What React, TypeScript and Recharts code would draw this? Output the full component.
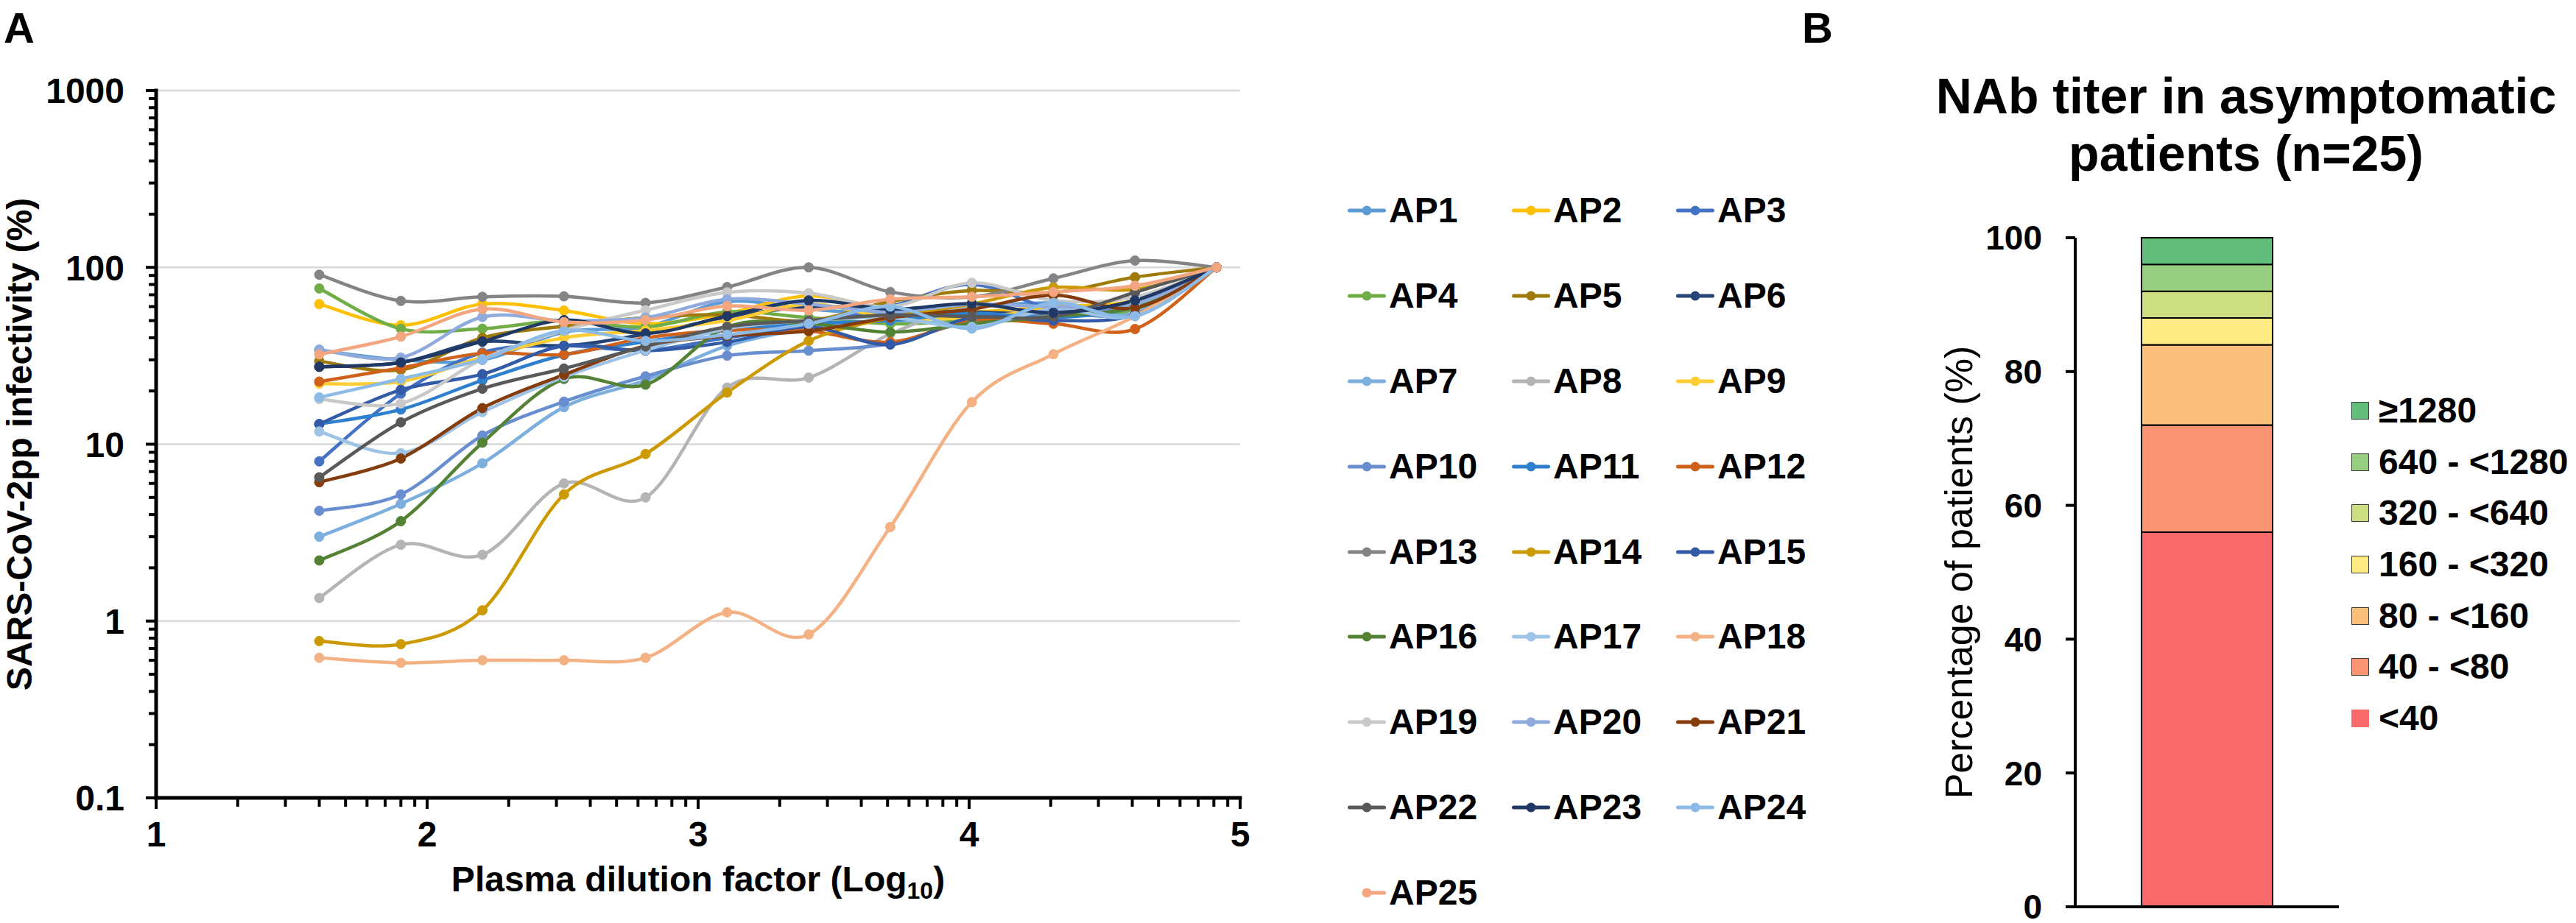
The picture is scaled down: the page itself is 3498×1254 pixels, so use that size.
import React from "react"
import {
  LineChart,
  Line,
  XAxis,
  YAxis,
  CartesianGrid,
  Legend,
  Label,
  BarChart,
  Bar
} from "recharts"

const FONT = '"Liberation Sans", Arial, sans-serif'

// log10 of plasma dilution, 1:40 ... 1:81920
const dilutionLog = [1.602, 1.903, 2.204, 2.505, 2.806, 3.107, 3.408, 3.709, 4.01, 4.311, 4.612, 4.913]

const patients = [
  "AP1", "AP2", "AP3", "AP4", "AP5", "AP6", "AP7", "AP8", "AP9", "AP10", "AP11", "AP12", "AP13",
  "AP14", "AP15", "AP16", "AP17", "AP18", "AP19", "AP20", "AP21", "AP22", "AP23", "AP24", "AP25"
]

const patientColors = [
  "#5B9BD5", "#FFC000", "#4472C4", "#70AD47", "#9E7A0A", "#264478", "#7CAFDD", "#B4B4B4", "#FFCD33",
  "#698ED0", "#2E80CE", "#D0611A", "#848484", "#CC9A00", "#335AA6", "#548235", "#9DC3E6", "#F4B183",
  "#C9C9C9", "#8FAADC", "#843C0C", "#595959", "#1F3864", "#8DBBE8", "#F4A680"
]

// SARS-CoV-2pp infectivity (%) per patient, one value per dilution
const ap1 = [34, 30, 30, 43, 46, 64, 58, 55, 60, 63, 58, 100]
const ap2 = [62, 47, 62, 57, 48, 55, 69, 58, 56, 60, 65, 100]
const ap3 = [8.0, 19.3, 33, 36, 34, 40, 47, 60, 80, 58, 55, 100]
const ap4 = [76, 45, 45, 50, 46, 56, 52, 48, 50, 53, 58, 100]
const ap5 = [29.5, 26.3, 40, 46.5, 52, 54, 50, 64, 74, 72, 88, 100]
const ap6 = [27.4, 29, 38, 36, 42, 52, 60, 58, 56, 55, 65, 100]
const ap7 = [3.0, 4.6, 7.8, 16.2, 23, 36, 45, 50, 48, 58, 55, 100]
const ap8 = [1.35, 2.7, 2.37, 6.0, 5.0, 20.9, 23.8, 42, 60, 55, 62, 100]
const ap9 = [22, 22.6, 31, 40, 44, 50, 62, 52, 52, 58, 62, 100]
const ap10 = [4.2, 5.2, 11.2, 17.4, 24.2, 31.7, 33.8, 37, 50, 56, 62, 100]
const ap11 = [13, 15.7, 23, 32, 38, 44, 48, 50, 55, 52, 60, 100]
const ap12 = [22.6, 27, 32.7, 32.2, 40, 44, 43.6, 37.8, 50, 48, 44.8, 100]
const ap13 = [90.9, 64.6, 68.2, 68.6, 63, 77.4, 100, 72.6, 68, 86.6, 109.3, 100]
const ap14 = [0.77, 0.74, 1.15, 5.2, 8.8, 19.6, 38.4, 52, 62, 77, 75, 100]
const ap15 = [13, 20.3, 24.9, 36, 33.8, 37.8, 46, 36.6, 52, 50, 54, 100]
const ap16 = [2.2, 3.67, 10.2, 23.4, 21.7, 46, 48, 43, 48, 52.8, 60, 100]
const ap17 = [11.8, 8.9, 15.2, 24, 34, 45, 50, 52, 46, 58, 53, 100]
const ap18 = [0.62, 0.58, 0.6, 0.6, 0.62, 1.12, 0.84, 3.4, 17.3, 32.3, 53, 100]
const ap19 = [18, 17, 30.2, 44, 57.2, 72.2, 71.5, 60, 81.8, 65, 68, 100]
const ap20 = [34.3, 30.9, 52.4, 50, 52, 66, 62, 56, 62, 60, 62, 100]
const ap21 = [6.1, 8.3, 16, 24.7, 36, 41, 43.6, 52, 58, 69.7, 59, 100]
const ap22 = [6.5, 13.3, 20.6, 26.8, 35.7, 46.1, 50, 53.7, 52.8, 52.8, 72.2, 100]
const ap23 = [27.4, 29, 38.1, 50.3, 42.3, 53.1, 65, 58, 62.4, 55.4, 65, 100]
const ap24 = [18.4, 23.4, 30.2, 43.9, 38.4, 41.6, 48, 60, 45, 63, 53, 100]
const ap25 = [32.2, 40.6, 58.1, 49.1, 50.4, 60.4, 57.2, 66, 68.2, 72.6, 78.7, 100]

const seriesValues = [
  ap1, ap2, ap3, ap4, ap5, ap6, ap7, ap8, ap9, ap10, ap11, ap12, ap13,
  ap14, ap15, ap16, ap17, ap18, ap19, ap20, ap21, ap22, ap23, ap24, ap25
]

const yMajorTicks = [0.1, 1, 10, 100, 1000]
const xMajorTicks = [1, 2, 3, 4, 5]
const minorSteps = [2, 3, 4, 5, 6, 7, 8, 9]

// panel B
const titerBands = ["<40", "40 - <80", "80 - <160", "160 - <320", "320 - <640", "640 - <1280", "≥1280"]
const bandPercents = [56, 16, 12, 4, 4, 4, 4]
const bandColors = ["#F8696B", "#FA9473", "#FBBF7C", "#FFEB84", "#CDDD82", "#98CE7F", "#63BE7B"]
const percentTicks = [0, 20, 40, 60, 80, 100]

const infectivityRows = dilutionLog.map((x, i) => {
  const row: any = { x }
  patients.forEach((p, k) => {
    row[p] = seriesValues[k][i]
  })
  return row
})

const titerRows = [
  titerBands.reduce((row: any, _b, i) => {
    row["b" + i] = bandPercents[i]
    return row
  }, { group: "asymptomatic" })
]

const yMinorTicks = yMajorTicks
  .slice(0, -1)
  .flatMap(d => minorSteps.map(k => +(d * k).toPrecision(3)))
const xMinorTicks = xMajorTicks
  .slice(0, -1)
  .flatMap(d => minorSteps.map(k => d + Math.log10(k)))

// Excel-style smoothed line (Catmull-Rom through the points)
const smoothCurve: any = (context: any) => {
  let pts: number[][] = []
  return {
    areaStart() {},
    areaEnd() {},
    lineStart() {
      pts = []
    },
    point(x: number, y: number) {
      pts.push([+x, +y])
    },
    lineEnd() {
      const n = pts.length
      if (!n) return
      context.moveTo(pts[0][0], pts[0][1])
      for (let i = 0; i < n - 1; i++) {
        const p0 = pts[i - 1] || pts[i]
        const p1 = pts[i]
        const p2 = pts[i + 1]
        const p3 = pts[i + 2] || p2
        context.bezierCurveTo(
          p1[0] + (p2[0] - p0[0]) / 6,
          p1[1] + (p2[1] - p0[1]) / 6,
          p2[0] - (p3[0] - p1[0]) / 6,
          p2[1] - (p3[1] - p1[1]) / 6,
          p2[0],
          p2[1]
        )
      }
    }
  }
}

function YLogTick({ x, y, payload }: any) {
  const major = yMajorTicks.includes(payload.value)
  return (
    <g>
      <line x1={x} x2={x - (major ? 14 : 10)} y1={y} y2={y} stroke="#000" strokeWidth={4} />
      {major && (
        <text x={x - 43} y={y} dy="0.36em" textAnchor="end" fontSize={48} fontWeight={700} fontFamily={FONT} fill="#000">
          {payload.value}
        </text>
      )}
    </g>
  )
}

function XLogTick({ x, y, payload }: any) {
  const major = xMajorTicks.some(t => Math.abs(t - payload.value) < 1e-6)
  return (
    <g>
      <line x1={x} x2={x} y1={y} y2={y + (major ? 15 : 12)} stroke="#000" strokeWidth={4} />
      {major && (
        <text x={x} y={y + 66} textAnchor="middle" fontSize={48} fontWeight={700} fontFamily={FONT} fill="#000">
          {Math.round(payload.value)}
        </text>
      )}
    </g>
  )
}

const infectivityTitle = ({ viewBox }: any) => {
  const cx = viewBox.x - 49
  const cy = viewBox.y + viewBox.height / 2
  return (
    <text x={cx} y={cy} transform={`rotate(-90 ${cx} ${cy})`} textAnchor="middle" fontSize={48} fontWeight={700} fontFamily={FONT} fill="#000">
      SARS-CoV-2pp infectivity (%)
    </text>
  )
}

const dilutionTitle = ({ viewBox }: any) => (
  <text x={viewBox.x + viewBox.width / 2} y={viewBox.y + 127} textAnchor="middle" fontSize={48} fontWeight={700} fontFamily={FONT} fill="#000">
    Plasma dilution factor (Log
    <tspan fontSize={32} dy={10}>10</tspan>
    <tspan dy={-10}>)</tspan>
  </text>
)

const percentTitle = ({ viewBox }: any) => {
  const cx = viewBox.x - 40
  const cy = viewBox.y + viewBox.height / 2
  return (
    <text x={cx} y={cy} transform={`rotate(-90 ${cx} ${cy})`} textAnchor="middle" fontSize={52} fontFamily={FONT} fill="#000">
      Percentage of patients (%)
    </text>
  )
}

const patientLegend = ({ payload }: any) => {
  const items = patients.map(p => (payload || []).find((e: any) => e.value === p)).filter(Boolean)
  return (
    <div style={{ display: "grid", gridTemplateColumns: "repeat(3, 223px)", gridAutoRows: "115.9px", fontFamily: FONT }}>
      {items.map((entry: any, i: number) => (
        <div key={entry.value} style={{ display: "flex", alignItems: "center" }}>
          <svg width={52} height={16}>
            <line x1={i === items.length - 1 ? 26 : 2.5} x2={49.5} y1={8} y2={8} stroke={entry.color} strokeWidth={5} strokeLinecap="round" />
            <circle cx={26} cy={8} r={6.5} fill={entry.color} />
          </svg>
          <span style={{ fontSize: 48, fontWeight: 700, lineHeight: 1, marginLeft: 4, color: "#000" }}>
            {entry.value}
          </span>
        </div>
      ))}
    </div>
  )
}

const bandLegend = ({ payload }: any) => {
  const items = titerBands
    .slice()
    .reverse()
    .map(b => (payload || []).find((e: any) => e.value === b))
    .filter(Boolean)
  return (
    <div style={{ fontFamily: FONT }}>
      {items.map((entry: any) => (
        <div key={entry.value} style={{ display: "flex", alignItems: "center", height: 69.7 }}>
          <span
            style={{
              width: 24,
              height: 24,
              background: entry.color,
              border: entry.value === titerBands[0] ? "none" : "1.5px solid #3c3c3c",
              boxSizing: "border-box"
            }}
          />
          <span style={{ fontSize: 48, fontWeight: 700, lineHeight: 1, marginLeft: 13, color: "#000" }}>
            {entry.value}
          </span>
        </div>
      ))}
    </div>
  )
}

export default function App() {
  return (
    <div style={{ position: "absolute", left: 0, top: 0, width: 3498, height: 1254, background: "#fff", overflow: "hidden", fontFamily: FONT }}>

      <div style={{ position: "absolute", left: 0, top: 0 }}>
        <LineChart width={2500} height={1254} data={infectivityRows} margin={{ top: 123, right: 816, bottom: 110, left: 92 }}>

          <CartesianGrid vertical={false} horizontalValues={yMajorTicks} stroke="#d9d9d9" strokeWidth={2.5} />

          <XAxis
            type="number"
            dataKey="x"
            domain={[1, 5]}
            ticks={[...xMajorTicks, ...xMinorTicks]}
            interval={0}
            height={60}
            tickSize={0}
            tickMargin={0}
            tickLine={false}
            tick={(p: any) => <XLogTick {...p} />}
            axisLine={{ stroke: "#000", strokeWidth: 5, strokeLinecap: "square" }}
          >
            <Label content={dilutionTitle} />
          </XAxis>

          <YAxis
            type="number"
            scale="log"
            domain={[0.1, 1000]}
            ticks={[...yMajorTicks, ...yMinorTicks]}
            interval={0}
            width={120}
            tickSize={0}
            tickMargin={0}
            tickLine={false}
            tick={(p: any) => <YLogTick {...p} />}
            axisLine={{ stroke: "#000", strokeWidth: 5, strokeLinecap: "square" }}
          >
            <Label content={infectivityTitle} />
          </YAxis>

          {patients.map((p, k) => (
            <Line
              key={p}
              dataKey={p}
              name={p}
              type={smoothCurve}
              stroke={patientColors[k]}
              strokeWidth={4.5}
              dot={{ r: 6.5, fill: patientColors[k], stroke: patientColors[k], strokeWidth: 1 }}
              activeDot={false}
              isAnimationActive={false}
            />
          ))}

          <Legend
            layout="vertical"
            align="center"
            verticalAlign="middle"
            wrapperStyle={{ left: 1830, top: 228, width: 700 }}
            content={patientLegend}
          />

        </LineChart>
      </div>

      <div style={{ position: "absolute", left: 2600, top: 0 }}>
        <BarChart width={898} height={1254} data={titerRows} margin={{ top: 323, right: 322, bottom: 12, left: 118 }} barSize={178}>

          <XAxis dataKey="group" tick={false} tickLine={false} height={10} axisLine={{ stroke: "#000", strokeWidth: 4 }} />

          <YAxis
            domain={[0, 100]}
            ticks={percentTicks}
            interval={0}
            width={100}
            tickSize={13}
            tickMargin={32}
            tickLine={{ stroke: "#000", strokeWidth: 4 }}
            axisLine={{ stroke: "#000", strokeWidth: 4 }}
            tick={{ fill: "#000", fontSize: 46, fontWeight: 700, fontFamily: FONT }}
          >
            <Label content={percentTitle} />
          </YAxis>

          {titerBands.map((b, i) => (
            <Bar
              key={b}
              dataKey={"b" + i}
              name={b}
              stackId="nab"
              fill={bandColors[i]}
              stroke="#000"
              strokeWidth={2}
              isAnimationActive={false}
            />
          ))}

          <Legend
            layout="vertical"
            align="center"
            verticalAlign="middle"
            wrapperStyle={{ left: 593, top: 523, width: 320 }}
            content={bandLegend}
          />

        </BarChart>
      </div>

      <div style={{ position: "absolute", left: 5, top: 9, fontSize: 58, fontWeight: 700, lineHeight: 1 }}>A</div>
      <div style={{ position: "absolute", left: 2447, top: 9, fontSize: 58, fontWeight: 700, lineHeight: 1 }}>B</div>

      <div style={{ position: "absolute", left: 2600, top: 91, width: 900, textAlign: "center", fontSize: 68, fontWeight: 700, lineHeight: "78px" }}>
        NAb titer in asymptomatic
        <br />
        patients (n=25)
      </div>

    </div>
  )
}
